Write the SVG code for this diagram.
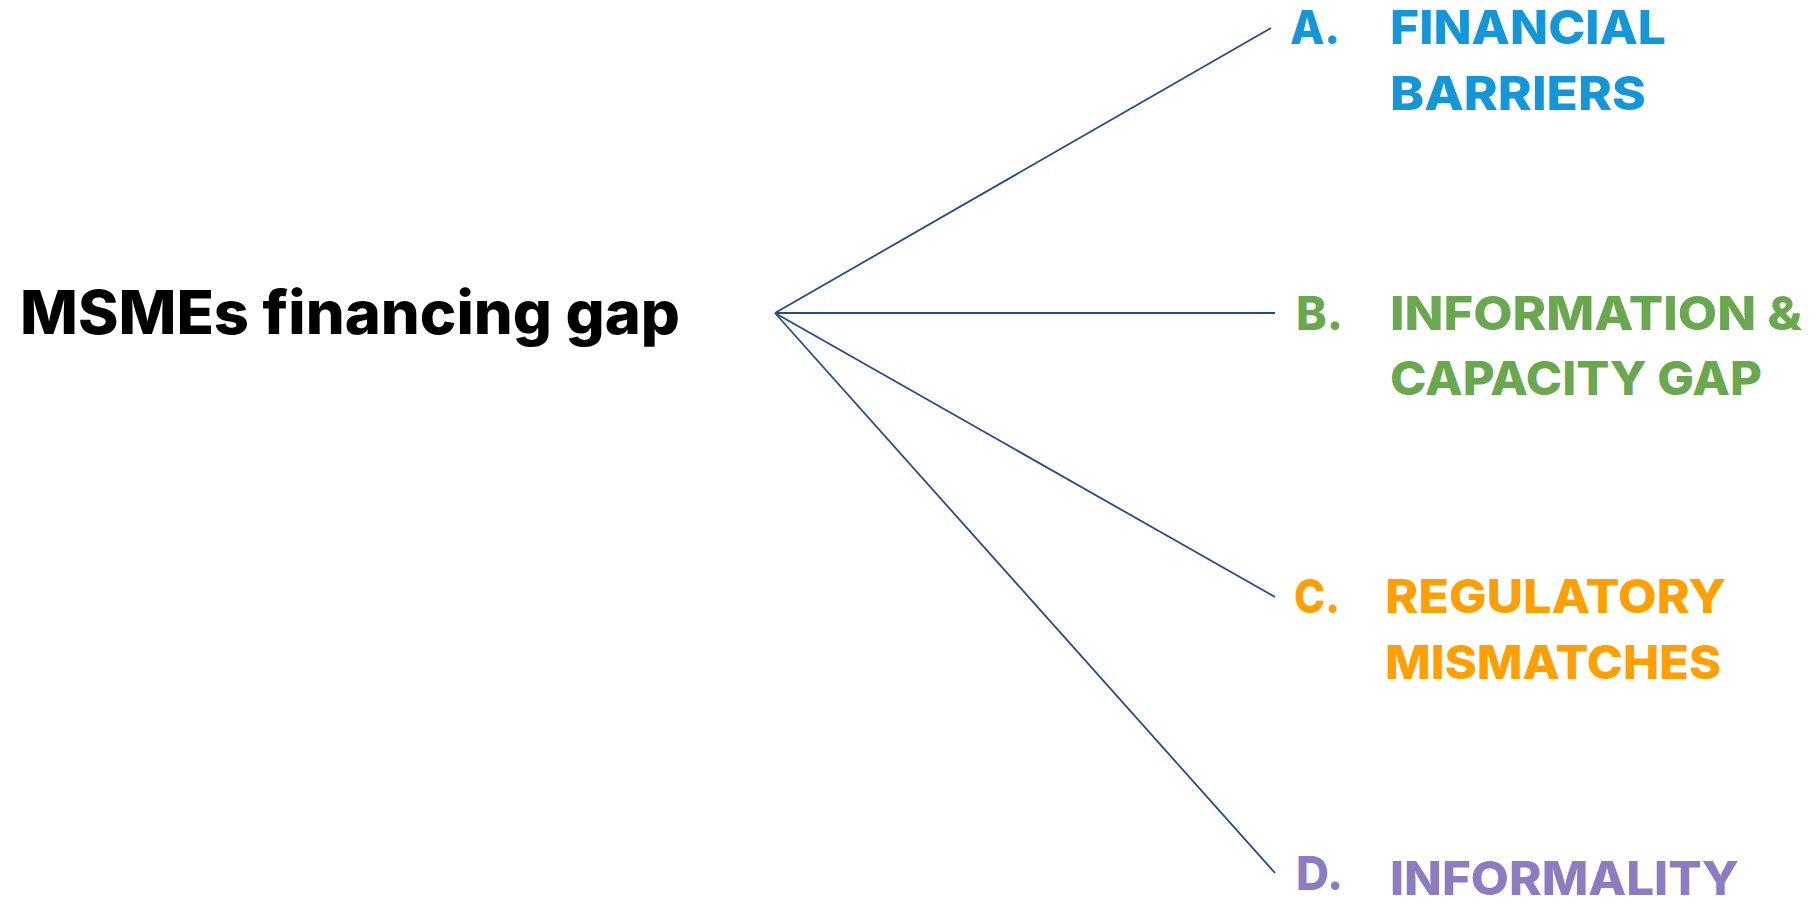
<svg xmlns="http://www.w3.org/2000/svg" width="1814" height="899" viewBox="0 0 1814 899">
<style>
.t{font-family:Inter,"Open Sans","Liberation Sans",sans-serif;font-weight:800}
.main{font-size:60px;fill:#000}
.lab{font-size:47px}
.a{fill:#1497D9}.b{fill:#6AA84F}.c{fill:#FF9F00}.d{fill:#8E7CC3}
.con line{stroke:#254C88;stroke-width:1.8}
</style>
<rect width="1814" height="899" fill="#fff"/>
<g id="root"><text class="t main" x="20" y="334" textLength="660" lengthAdjust="spacingAndGlyphs">MSMEs financing gap</text></g>
<g id="connectors" class="con">
<line x1="775" y1="313" x2="1271" y2="28"/>
<line x1="775" y1="313" x2="1275" y2="313"/>
<line x1="775" y1="313" x2="1275" y2="597"/>
<line x1="775" y1="313" x2="1275" y2="873"/>
</g>
<g id="nodeA" class="t lab a">
<text x="1290" y="44" textLength="50" lengthAdjust="spacingAndGlyphs">A.</text>
<text x="1390" y="44" textLength="276" lengthAdjust="spacingAndGlyphs">FINANCIAL</text>
<text x="1390" y="110" textLength="256" lengthAdjust="spacingAndGlyphs">BARRIERS</text>
</g>
<g id="nodeB" class="t lab b">
<text x="1296" y="330" textLength="47" lengthAdjust="spacingAndGlyphs">B.</text>
<text x="1390" y="330" textLength="412" lengthAdjust="spacingAndGlyphs">INFORMATION &amp;</text>
<text x="1390" y="395" textLength="372" lengthAdjust="spacingAndGlyphs">CAPACITY GAP</text>
</g>
<g id="nodeC" class="t lab c">
<text x="1294" y="613" textLength="46" lengthAdjust="spacingAndGlyphs">C.</text>
<text x="1385" y="613" textLength="341" lengthAdjust="spacingAndGlyphs">REGULATORY</text>
<text x="1385" y="679" textLength="336" lengthAdjust="spacingAndGlyphs">MISMATCHES</text>
</g>
<g id="nodeD" class="t lab d">
<text x="1296" y="890" textLength="47" lengthAdjust="spacingAndGlyphs">D.</text>
<text x="1390" y="895" textLength="349" lengthAdjust="spacingAndGlyphs">INFORMALITY</text>
</g>
</svg>
